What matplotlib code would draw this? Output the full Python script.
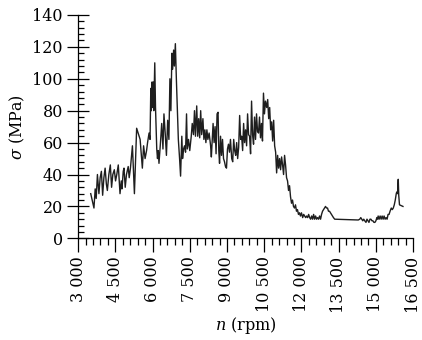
import matplotlib.pyplot as plt
import matplotlib as mpl
from matplotlib.ticker import MultipleLocator, FuncFormatter

# speed (rpm) and stress (MPa)
rpm = [3510, 3640, 3690, 3730, 3780, 3840, 3890, 3940, 3990, 4040,
       4090, 4140, 4180, 4240, 4300, 4350, 4400, 4460, 4510, 4560,
       4620, 4690, 4740, 4770, 4820, 4850, 4900, 4950, 5020, 5060,
       5110, 5190, 5270, 5360, 5500, 5590, 5640, 5700, 5760, 5800,
       5860, 5900, 5930, 5950, 5980, 6000, 6030, 6050, 6090, 6120,
       6170, 6200, 6230, 6260, 6320, 6370, 6420, 6460, 6510, 6560,
       6610, 6660, 6700, 6740, 6780, 6810, 6850, 6880, 6920, 6960,
       7000, 7040, 7090, 7130, 7180, 7210, 7250, 7290, 7330, 7370,
       7400, 7450, 7500, 7560, 7600, 7650, 7690, 7730, 7780, 7820,
       7860, 7900, 7940, 7980, 8030, 8070, 8110, 8150, 8190, 8230,
       8280, 8340, 8370, 8400, 8440, 8480, 8520, 8560, 8600, 8640,
       8670, 8700, 8740, 8780, 8820, 8860, 8900, 8940, 8980, 9020,
       9060, 9100, 9140, 9190, 9230, 9270, 9310, 9350, 9390, 9430,
       9470, 9510, 9550, 9590, 9630, 9670, 9710, 9750, 9790, 9830,
       9870, 9910, 9950, 9990, 10030, 10070, 10110, 10150, 10190, 10230,
       10270, 10310, 10350, 10390, 10430, 10470, 10510, 10550, 10600, 10640,
       10680, 10720, 10760, 10800, 10840, 10880, 10920, 10960, 11000, 11040,
       11080, 11120, 11160, 11200, 11240, 11280, 11320, 11360, 11400, 11440,
       11480, 11520, 11560, 11600, 11640, 11680, 11720, 11760, 11800, 11840,
       11880, 11920, 11960, 12000, 12050, 12090, 12130, 12170, 12210, 12250,
       12290, 12330, 12370, 12410, 12450, 12490, 12530, 12570, 12610, 12650,
       12690, 12730, 12770, 12810, 12850, 12890, 12930, 12970, 13010, 13050,
       13090, 13130, 13170, 13210, 13250, 13290, 13340, 14290, 14350, 14390,
       14430, 14470, 14510, 14550, 14600, 14640, 14680, 14720, 14760, 14800,
       14840, 14880, 14920, 14960, 15000, 15040, 15070, 15090, 15130, 15170,
       15210, 15250, 15290, 15330, 15370, 15410, 15450, 15490, 15530, 15570,
       15620, 15660, 15700, 15740, 15780, 15820, 15840, 15870, 15900, 15920,
       15950, 16090]

stress = [28, 19, 31, 25, 40, 28, 38, 42, 27, 38,
          44, 34, 30, 40, 46, 32, 40, 43, 36, 40,
          46, 28, 36, 31, 42, 44, 32, 40, 45, 38,
          44, 58, 28, 69, 62, 44, 58, 50, 55, 60,
          66, 62, 94, 80, 98, 82, 98, 80, 110, 82,
          56, 50, 55, 47, 60, 72, 56, 78, 66, 52,
          74, 62, 100, 80, 116, 106, 118, 108, 122, 100,
          82, 62, 50, 39, 64, 50, 56, 58, 54, 78,
          56, 62, 55, 64, 72, 65, 80, 64, 83, 64,
          75, 63, 80, 65, 75, 62, 68, 60, 68, 62,
          66, 58, 51, 60, 72, 60, 70, 53, 78, 79,
          55, 47, 64, 52, 62, 50, 48, 45, 44, 56,
          59, 54, 62, 50, 48, 62, 55, 52, 60, 50,
          57, 77, 62, 64, 55, 72, 60, 68, 58, 78,
          65, 64, 53, 86, 65, 59, 76, 62, 78, 67,
          66, 76, 63, 72, 61, 91, 78, 86, 82, 87,
          75, 82, 68, 73, 61, 74, 58, 54, 41, 52,
          44, 50, 43, 51, 46, 40, 52, 46, 38, 36,
          30, 33, 26, 22, 24, 20, 19, 21, 17, 18,
          15, 16, 14, 16, 13, 15, 14, 13, 14, 13,
          15, 13, 12, 14, 12, 15, 12, 14, 12, 13,
          12, 14, 12, 15, 17, 18, 19, 20, 19, 19,
          17, 17, 16, 15, 14, 13, 12, 11.5, 12, 13,
          12, 11, 12, 11, 10, 12, 11, 10, 12, 12,
          11, 11, 10, 10, 11, 13, 12, 14, 12, 14,
          12, 14, 12, 14, 12, 13, 12, 15, 15, 17,
          19, 18, 19, 21, 24, 28, 29, 28, 37, 27,
          21, 20]

mpl.rcParams.update({
    'font.family': 'DejaVu Serif',
    'mathtext.fontset': 'dejavuserif',
    'font.size': 11.5,
})

fig = plt.figure(figsize=(4.22, 3.40), dpi=100)
ax = fig.add_axes([0.185, 0.299, 0.794, 0.657])

ax.plot(rpm, stress, color='#1e1e1e', linewidth=1.0)

ax.set_xlim(3000, 16500)
ax.set_ylim(0, 140)

# 축 정리
ax.spines['top'].set_visible(False)
ax.spines['right'].set_visible(False)
ax.spines['left'].set_linewidth(0.9)
ax.spines['bottom'].set_linewidth(0.9)

ax.xaxis.set_major_locator(MultipleLocator(1500))
ax.xaxis.set_minor_locator(MultipleLocator(300))
ax.yaxis.set_major_locator(MultipleLocator(20))
ax.yaxis.set_minor_locator(MultipleLocator(4))

ax.xaxis.set_major_formatter(FuncFormatter(lambda v, p: f'{int(v):,}'.replace(',', ' ')))

ax.tick_params(axis='x', which='major', direction='out', length=10, width=0.9, pad=3)
ax.tick_params(axis='x', which='minor', direction='out', length=5, width=0.9)
ax.tick_params(axis='y', which='major', direction='inout', length=16, width=0.9, pad=3)
ax.tick_params(axis='y', which='minor', direction='in', length=4, width=0.9)

plt.setp(ax.get_xticklabels(), rotation=90, va='top', ha='center')

ax.set_xlabel(r'$n$ (rpm)', labelpad=2)
ax.set_ylabel(r'$\sigma$ (MPa)', labelpad=4)

plt.savefig('out.png', dpi=100)
